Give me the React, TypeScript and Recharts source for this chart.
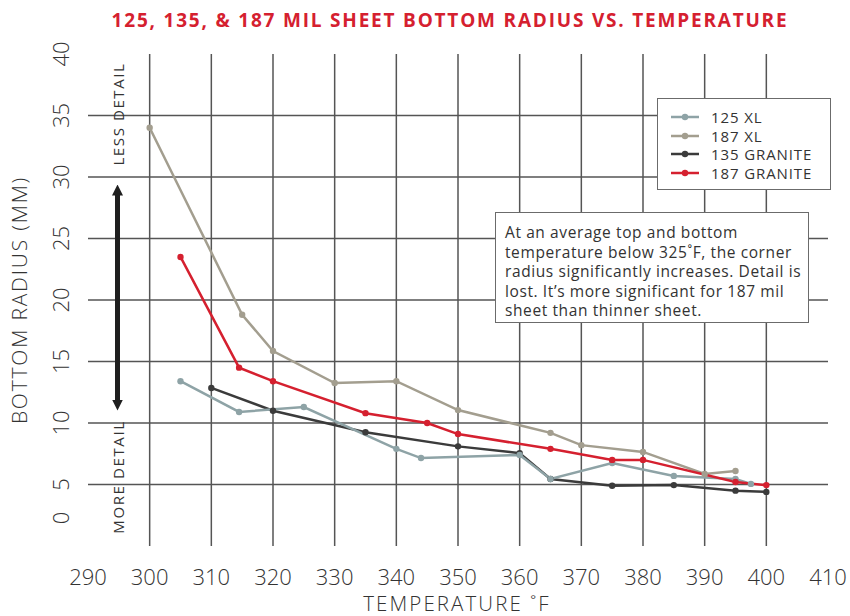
import { LineChart, Line, XAxis, YAxis, CartesianGrid } from "recharts";

// ─── Data ─────────────────────────────────────────────────────────────────────
const temps125XL = [305, 314.5, 325, 340, 344, 360, 365, 375, 385, 395, 397.5];
const radius125XL = [13.4, 10.9, 11.3, 7.9, 7.15, 7.4, 5.45, 6.75, 5.7, 5.45, 5.05];

const temps187XL = [300, 315, 320, 330, 340, 350, 365, 370, 380, 390, 395];
const radius187XL = [34, 18.8, 15.85, 13.25, 13.4, 11.05, 9.2, 8.2, 7.65, 5.85, 6.1];

const temps135G = [310, 320, 335, 350, 360, 365, 375, 385, 395, 400];
const radius135G = [12.85, 11.0, 9.25, 8.1, 7.55, 5.45, 4.9, 4.95, 4.5, 4.4];

const temps187G = [305, 314.5, 320, 335, 345, 350, 365, 375, 380, 395, 400];
const radius187G = [23.5, 14.5, 13.4, 10.8, 10.0, 9.1, 7.9, 7.0, 7.0, 5.2, 4.95];

const xTicks = [290, 300, 310, 320, 330, 340, 350, 360, 370, 380, 390, 400, 410];
const yTicks = [0, 5, 10, 15, 20, 25, 30, 35, 40];
const gridX = [300, 310, 320, 330, 340, 350, 360, 370, 380, 390, 400];
const gridY = [5, 10, 15, 20, 25, 30, 35];

const noteLines = [
  "At an average top and bottom",
  "temperature below 325˚F, the corner",
  "radius significantly increases. Detail is",
  "lost. It’s more significant for 187 mil",
  "sheet than thinner sheet.",
];

const toPoints = (xs: number[], ys: number[]) => xs.map((x, i) => ({ x, y: ys[i] }));

const series = [
  { name: "135 GRANITE", color: "#3b3b3b", data: toPoints(temps135G, radius135G) },
  { name: "187 XL", color: "#a39e8f", data: toPoints(temps187XL, radius187XL) },
  { name: "125 XL", color: "#8ea3a6", data: toPoints(temps125XL, radius125XL) },
  { name: "187 GRANITE", color: "#d5202f", data: toPoints(temps187G, radius187G) },
];
const legendOrder = ["125 XL", "187 XL", "135 GRANITE", "187 GRANITE"];

const FONT = '"Open Sans", "DejaVu Sans", sans-serif';
const INK = "#333333";

// ─── Ticks ────────────────────────────────────────────────────────────────────
function XTick({ x, payload }: any) {
  return (
    <text x={x} y={585} textAnchor="middle" fontSize={22} fill={INK} fontFamily={FONT} fontWeight={300}>
      {payload.value}
    </text>
  );
}

function YTick({ y, payload }: any) {
  // the "0" label sits a little above its gridline in the original
  const cy = payload.value === 0 ? y - 28 : y;
  return (
    <text
      x={60}
      y={cy}
      transform={`rotate(-90, 60, ${cy})`}
      textAnchor="middle"
      dominantBaseline="central"
      fontSize={22}
      fill={INK}
      fontFamily={FONT}
      fontWeight={300}
    >
      {payload.value}
    </text>
  );
}

function LegendBox() {
  return (
    <div
      style={{
        position: "absolute",
        left: 657,
        top: 98,
        width: 174,
        height: 92,
        boxSizing: "border-box",
        border: "1px solid #6b6b6b",
        background: "#fff",
        padding: "9px 0 0 12px",
        fontFamily: FONT,
        fontSize: 15,
        letterSpacing: 0.9,
        color: INK,
      }}
    >
      {legendOrder.map((n) => {
        const s = series.find((d) => d.name === n)!;
        return (
          <div key={n} style={{ display: "flex", alignItems: "center", height: 18.5 }}>
            <svg width={30} height={10} style={{ marginRight: 11 }}>
              <line x1={1} y1={5} x2={29} y2={5} stroke={s.color} strokeWidth={2.5} />
              <circle cx={15} cy={5} r={3.2} fill={s.color} />
            </svg>
            <span>{n}</span>
          </div>
        );
      })}
    </div>
  );
}

export default function App() {
  return (
    <div style={{ position: "absolute", left: 0, top: 0, width: 850, height: 616, background: "#fff" }}>
      <div
        style={{
          position: "absolute",
          left: 50,
          width: 800,
          top: 7,
          textAlign: "center",
          fontFamily: FONT,
          fontWeight: 700,
          fontSize: 19,
          color: "#d5202f",
          letterSpacing: 1.8,
        }}
      >
        125, 135, &amp; 187 MIL SHEET BOTTOM RADIUS VS. TEMPERATURE
      </div>

      <LineChart width={850} height={616} margin={{ top: 54, right: 22, bottom: 0, left: 0 }}>
        <CartesianGrid
          stroke="#555"
          strokeWidth={1.5}
          horizontalValues={gridY}
          verticalValues={gridX}
        />
        <XAxis
          type="number"
          dataKey="x"
          domain={[290, 410]}
          ticks={xTicks}
          axisLine={false}
          tickLine={false}
          height={70}
          tick={<XTick />}
          interval={0}
        />
        <YAxis
          type="number"
          dataKey="y"
          domain={[0, 40]}
          ticks={yTicks}
          axisLine={false}
          tickLine={false}
          width={88}
          tick={<YTick />}
          interval={0}
        />
        {series.map((s) => (
          <Line
            key={s.name}
            data={s.data}
            dataKey="y"
            name={s.name}
            type="linear"
            stroke={s.color}
            strokeWidth={2.5}
            dot={{ r: 3.2, fill: s.color, stroke: s.color, strokeWidth: 0 }}
            activeDot={false}
            isAnimationActive={false}
          />
        ))}
      </LineChart>

      {/* annotations and axis titles */}
      <svg width={850} height={616} style={{ position: "absolute", left: 0, top: 0, pointerEvents: "none" }}>
        <defs>
          <marker id="head" viewBox="0 0 10 10" refX="5" refY="5" markerWidth="2.2" markerHeight="2.2" orient="auto-start-reverse">
            <path d="M0,0 L10,5 L0,10 z" fill="#1f1f1f" />
          </marker>
        </defs>
        <line x1={117.5} y1={190} x2={117.5} y2={405} stroke="#1f1f1f" strokeWidth={5} markerStart="url(#head)" markerEnd="url(#head)" />
        <text x={118} y={114} transform="rotate(-90, 118, 114)" textAnchor="middle" dominantBaseline="central" fontSize={15} letterSpacing={1.6} fill={INK} fontFamily={FONT}>
          LESS DETAIL
        </text>
        <text x={118} y={477} transform="rotate(-90, 118, 477)" textAnchor="middle" dominantBaseline="central" fontSize={15} letterSpacing={1.6} fill={INK} fontFamily={FONT}>
          MORE DETAIL
        </text>
        <text x={19} y={300} transform="rotate(-90, 19, 300)" textAnchor="middle" dominantBaseline="central" fontSize={21} letterSpacing={1.8} fill={INK} fontFamily={FONT} fontWeight={300}>
          BOTTOM RADIUS (MM)
        </text>
        <text x={457} y={603} textAnchor="middle" dominantBaseline="central" fontSize={20.5} letterSpacing={2.1} fill={INK} fontFamily={FONT} fontWeight={300}>
          TEMPERATURE ˚F
        </text>
      </svg>

      <LegendBox />

      <div
        style={{
          position: "absolute",
          left: 495,
          top: 212,
          width: 314,
          height: 111,
          boxSizing: "border-box",
          border: "1px solid #6b6b6b",
          background: "#fff",
          padding: "10px 0 0 9px",
          fontFamily: FONT,
          fontSize: 15.5,
          letterSpacing: 0.6,
          color: INK,
          whiteSpace: "nowrap",
        }}
      >
        {noteLines.map((l) => (
          <div key={l} style={{ height: 19.5, lineHeight: "19.5px", overflow: "visible" }}>
            {l}
          </div>
        ))}
      </div>
    </div>
  );
}
